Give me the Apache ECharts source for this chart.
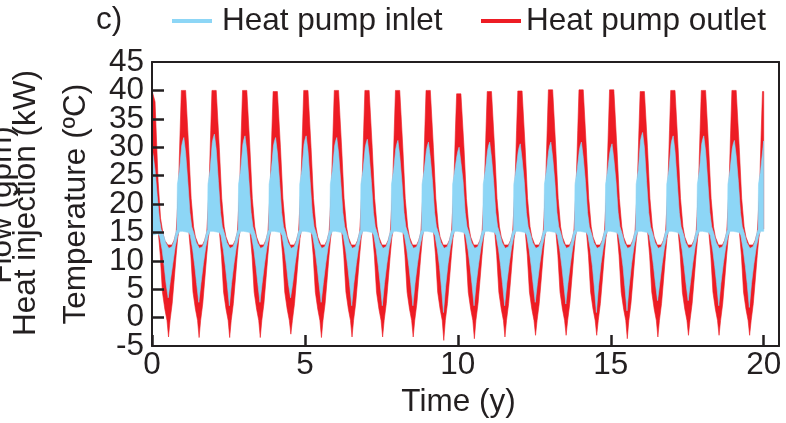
<!DOCTYPE html>
<html><head><meta charset="utf-8">
<script src="https://cdn.jsdelivr.net/npm/echarts@6/dist/echarts.min.js"></script>
<style>html,body{margin:0;padding:0;background:#fff}#c{width:786px;height:423px}</style>
</head><body><div id="c"></div>
<script>
// ---------- axes ----------
const xMin = 0, xMax = 20.5, xInterval = 5;
const yMin = -5, yMax = 45, yInterval = 5;
const yEdgeLabels = [-5, 45];
const seriesNames = ['Heat pump inlet', 'Heat pump outlet'];

// ---------- Heat pump outlet (red): upper envelope ----------
// x = year index + phase
const outletUpperPhase = [0, 0.10, 0.20, 0.28, 0.36, 0.42, 0.52, 0.65, 0.72, 0.79, 0.86, 0.92, 0.96];
const outletUpper = [
  [40, 38, 24, 17.5, 14.8, 13.6, 12.8, 12.8, 13.6, 15, 22, 33, 40],
  [40, 40, 30, 21, 16, 14.2, 12.8, 12.8, 13.6, 15, 22, 33, 40],
  [40, 40, 30, 21, 16, 14.2, 12.8, 12.8, 13.6, 15, 22, 33, 40],
  [40, 40, 30, 21, 16, 14.2, 12.8, 12.8, 13.6, 15, 22, 33, 39.8],
  [39.8, 39.8, 30, 21, 16, 14.2, 12.8, 12.8, 13.6, 15, 22, 33, 40],
  [40, 40, 30, 21, 16, 14.2, 12.8, 12.8, 13.6, 15, 22, 33, 40],
  [40, 40, 30, 21, 16, 14.2, 12.8, 12.8, 13.6, 15, 22, 33, 40],
  [40, 40, 30, 21, 16, 14.2, 12.8, 12.8, 13.6, 15, 22, 33, 40],
  [40, 40, 30, 21, 16, 14.2, 12.8, 12.8, 13.6, 15, 22, 33, 40],
  [40, 40, 30, 21, 16, 14.2, 12.8, 12.8, 13.6, 15, 22, 33, 39.4],
  [39.4, 39.4, 30, 21, 16, 14.2, 12.8, 12.8, 13.6, 15, 22, 33, 39.8],
  [39.8, 39.8, 30, 21, 16, 14.2, 12.8, 12.8, 13.6, 15, 22, 33, 39.9],
  [39.9, 39.9, 30, 21, 16, 14.2, 12.8, 12.8, 13.6, 15, 22, 33, 40.1],
  [40.1, 40.1, 30, 21, 16, 14.2, 12.8, 12.8, 13.6, 15, 22, 33, 40.1],
  [40.1, 40.1, 30, 21, 16, 14.2, 12.8, 12.8, 13.6, 15, 22, 33, 40.1],
  [40.1, 40.1, 30, 21, 16, 14.2, 12.8, 12.8, 13.6, 15, 22, 33, 39.8],
  [39.8, 39.8, 30, 21, 16, 14.2, 12.8, 12.8, 13.6, 15, 22, 33, 40],
  [40, 40, 30, 21, 16, 14.2, 12.8, 12.8, 13.6, 15, 22, 33, 40],
  [40, 40, 30, 21, 16, 14.2, 12.8, 12.8, 13.6, 15, 22, 33, 40],
  [40, 40, 30, 21, 16, 14.2, 12.8, 12.8, 13.6, 15, 22, 33, 39.8]
];
const outletUpperEnd = 39.8;

// ---------- Heat pump outlet (red): lower envelope ----------
const outletLowerPhase = [0, 0.20, 0.27, 0.34, 0.42, 0.49, 0.54, 0.59, 0.66, 0.73, 0.79, 0.84, 0.89];
const outletLower = [
  [15.0, 15.4, 11, 4.5, 1.5, -0.5, -3.4, -0.5, 2.5, 7, 11, 14, 15.6],
  [15.6, 15.4, 11, 4.5, 1.5, -0.5, -3.5, -0.5, 2.5, 7, 11, 14, 15.6],
  [15.6, 15.4, 11, 4.5, 1.5, -0.5, -3.5, -0.5, 2.5, 7, 11, 14, 15.6],
  [15.6, 15.4, 11, 4.5, 1.5, -0.5, -3.5, -0.5, 2.5, 7, 11, 14, 15.6],
  [15.6, 15.4, 11, 4.5, 1.5, -0.5, -2.9, -0.5, 2.5, 7, 11, 14, 15.6],
  [15.6, 15.4, 11, 4.5, 1.5, -0.5, -3.5, -0.5, 2.5, 7, 11, 14, 15.6],
  [15.6, 15.4, 11, 4.5, 1.5, -0.5, -3.4, -0.5, 2.5, 7, 11, 14, 15.6],
  [15.6, 15.4, 11, 4.5, 1.5, -0.5, -3.4, -0.5, 2.5, 7, 11, 14, 15.6],
  [15.6, 15.4, 11, 4.5, 1.5, -0.5, -3.4, -0.5, 2.5, 7, 11, 14, 15.6],
  [15.6, 15.4, 11, 4.5, 1.5, -0.5, -4.0, -0.5, 2.5, 7, 11, 14, 15.6],
  [15.6, 15.4, 11, 4.5, 1.5, -0.5, -3.7, -0.5, 2.5, 7, 11, 14, 15.6],
  [15.6, 15.4, 11, 4.5, 1.5, -0.5, -3.4, -0.5, 2.5, 7, 11, 14, 15.6],
  [15.6, 15.4, 11, 4.5, 1.5, -0.5, -3.1, -0.5, 2.5, 7, 11, 14, 15.6],
  [15.6, 15.4, 11, 4.5, 1.5, -0.5, -3.1, -0.5, 2.5, 7, 11, 14, 15.6],
  [15.6, 15.4, 11, 4.5, 1.5, -0.5, -3.1, -0.5, 2.5, 7, 11, 14, 15.6],
  [15.6, 15.4, 11, 4.5, 1.5, -0.5, -3.7, -0.5, 2.5, 7, 11, 14, 15.6],
  [15.6, 15.4, 11, 4.5, 1.5, -0.5, -3.4, -0.5, 2.5, 7, 11, 14, 15.6],
  [15.6, 15.4, 11, 4.5, 1.5, -0.5, -3.1, -0.5, 2.5, 7, 11, 14, 15.6],
  [15.6, 15.4, 11, 4.5, 1.5, -0.5, -3.1, -0.5, 2.5, 7, 11, 14, 15.6],
  [15.6, 15.4, 11, 4.5, 1.5, -0.5, -3.1, -0.5, 2.5, 7, 11, 14, 15.6]
];
const outletLowerEnd = 15.6;

// ---------- Heat pump inlet (blue): upper envelope ----------
const inletUpperPhase = [0, 0.04, 0.10, 0.17, 0.24, 0.30, 0.36, 0.45, 0.55, 0.65, 0.72, 0.78, 0.815, 0.83, 0.90, 0.97];
const inletUpper = [
  [29.5, 28.5, 26, 21.5, 17.5, 15.5, 14.8, 13.2, 12.2, 12.5, 13.5, 15, 15.5, 23.5, 26, 30.2],
  [31.0, 31.7, 29.0, 24, 18.5, 16, 15, 13.2, 12.2, 12.5, 13.5, 15, 15.5, 23.5, 26, 30.8],
  [31.6, 32.3, 29.6, 24, 18.5, 16, 15, 13.2, 12.2, 12.5, 13.5, 15, 15.5, 23.5, 26, 30.5],
  [31.3, 32.0, 29.3, 24, 18.5, 16, 15, 13.2, 12.2, 12.5, 13.5, 15, 15.5, 23.5, 26, 30.2],
  [31.0, 31.7, 29.0, 24, 18.5, 16, 15, 13.2, 12.2, 12.5, 13.5, 15, 15.5, 23.5, 26, 30.5],
  [31.3, 32.0, 29.3, 24, 18.5, 16, 15, 13.2, 12.2, 12.5, 13.5, 15, 15.5, 23.5, 26, 30.2],
  [31.0, 31.7, 29.0, 24, 18.5, 16, 15, 13.2, 12.2, 12.5, 13.5, 15, 15.5, 23.5, 26, 29.9],
  [30.7, 31.4, 28.7, 24, 18.5, 16, 15, 13.2, 12.2, 12.5, 13.5, 15, 15.5, 23.5, 26, 29.7],
  [30.5, 31.2, 28.5, 24, 18.5, 16, 15, 13.2, 12.2, 12.5, 13.5, 15, 15.5, 23.5, 26, 29.4],
  [30.2, 30.9, 28.2, 24, 18.5, 16, 15, 13.2, 12.2, 12.5, 13.5, 15, 15.5, 23.5, 26, 28.5],
  [29.3, 30.0, 27.3, 24, 18.5, 16, 15, 13.2, 12.2, 12.5, 13.5, 15, 15.5, 23.5, 26, 29.4],
  [30.2, 30.9, 28.2, 24, 18.5, 16, 15, 13.2, 12.2, 12.5, 13.5, 15, 15.5, 23.5, 26, 29.1],
  [29.9, 30.6, 27.9, 24, 18.5, 16, 15, 13.2, 12.2, 12.5, 13.5, 15, 15.5, 23.5, 26, 29.4],
  [30.2, 30.9, 28.2, 24, 18.5, 16, 15, 13.2, 12.2, 12.5, 13.5, 15, 15.5, 23.5, 26, 29.4],
  [30.2, 30.9, 28.2, 24, 18.5, 16, 15, 13.2, 12.2, 12.5, 13.5, 15, 15.5, 23.5, 26, 29.1],
  [29.9, 30.6, 27.9, 24, 18.5, 16, 15, 13.2, 12.2, 12.5, 13.5, 15, 15.5, 23.5, 26, 31.1],
  [31.9, 32.6, 29.9, 24, 18.5, 16, 15, 13.2, 12.2, 12.5, 13.5, 15, 15.5, 23.5, 26, 30.5],
  [31.3, 32.0, 29.3, 24, 18.5, 16, 15, 13.2, 12.2, 12.5, 13.5, 15, 15.5, 23.5, 26, 30.5],
  [31.3, 32.0, 29.3, 24, 18.5, 16, 15, 13.2, 12.2, 12.5, 13.5, 15, 15.5, 23.5, 26, 29.7],
  [30.5, 31.2, 28.5, 24, 18.5, 16, 15, 13.2, 12.2, 12.5, 13.5, 15, 15.5, 23.5, 26, 29.6]
];
const inletUpperEnd = 31.1;

// ---------- Heat pump inlet (blue): lower envelope ----------
const inletLowerPhase = [0, 0.20, 0.25, 0.33, 0.40, 0.46, 0.53, 0.60, 0.68, 0.76, 0.84, 0.90];
const inletLower = [
  [14.5, 14.8, 14.3, 12, 9, 6, 3.5, 6.5, 9.5, 12.5, 14.5, 15.2],
  [15.2, 15, 14.5, 12, 9, 6, 2.7, 6, 9.5, 12.5, 14.5, 15.2],
  [15.2, 15, 14.5, 12, 9, 6, 2.1, 6, 9.5, 12.5, 14.5, 15.2],
  [15.2, 15, 14.5, 12, 9, 6, 2.7, 6, 9.5, 12.5, 14.5, 15.2],
  [15.2, 15, 14.5, 12, 9, 6, 3.5, 6, 9.5, 12.5, 14.5, 15.2],
  [15.2, 15, 14.5, 12, 9, 6, 2.7, 6, 9.5, 12.5, 14.5, 15.2],
  [15.2, 15, 14.5, 12, 9, 6, 2.1, 6, 9.5, 12.5, 14.5, 15.2],
  [15.2, 15, 14.5, 12, 9, 6, 2.1, 6, 9.5, 12.5, 14.5, 15.2],
  [15.2, 15, 14.5, 12, 9, 6, 2.1, 6, 9.5, 12.5, 14.5, 15.2],
  [15.2, 15, 14.5, 12, 9, 5.5, 0.9, 5.5, 9.5, 12.5, 14.5, 15.2],
  [15.2, 15, 14.5, 12, 9, 6, 2.1, 6, 9.5, 12.5, 14.5, 15.2],
  [15.2, 15, 14.5, 12, 9, 6, 2.1, 6, 9.5, 12.5, 14.5, 15.2],
  [15.2, 15, 14.5, 12, 9, 6, 2.7, 6, 9.5, 12.5, 14.5, 15.2],
  [15.2, 15, 14.5, 12, 9, 6, 2.4, 6, 9.5, 12.5, 14.5, 15.2],
  [15.2, 15, 14.5, 12, 9, 5.5, 0.9, 5.5, 9.5, 12.5, 14.5, 15.2],
  [15.2, 15, 14.5, 12, 9, 5.5, 1.2, 5.5, 9.5, 12.5, 14.5, 15.2],
  [15.2, 15, 14.5, 12, 9, 6, 3.0, 6, 9.5, 12.5, 14.5, 15.2],
  [15.2, 15, 14.5, 12, 9, 6, 3.0, 6, 9.5, 12.5, 14.5, 15.2],
  [15.2, 15, 14.5, 12, 9, 6, 2.1, 6, 9.5, 12.5, 14.5, 15.2],
  [15.2, 15, 14.5, 12, 9, 6, 1.8, 6, 9.5, 12.5, 14.5, 15.2]
];
const inletLowerEnd = 15.2;

// ---------- build ----------
const INK = '#231f20';
const RED = '#ed1c24';
const BLUE = '#8dd6f6';
const FONT = '"Liberation Sans", Arial, Helvetica, sans-serif';
const FS = 31.5;

function envelope(phase, rows, endValue, endX) {
  const pts = [];
  rows.forEach((row, year) => row.forEach((v, j) => pts.push([year + phase[j], v])));
  pts.push([endX, endValue]);
  return pts;
}
const lastX = outletUpper.length;
const redUp = envelope(outletUpperPhase, outletUpper, outletUpperEnd, lastX);
const redLo = envelope(outletLowerPhase, outletLower, outletLowerEnd, lastX);
const blueUp = envelope(inletUpperPhase, inletUpper, inletUpperEnd, lastX);
const blueLo = envelope(inletLowerPhase, inletLower, inletLowerEnd, lastX);

function band(name, up, lo, color) {
  return {
    type: 'custom', name, z: 1, coordinateSystem: 'cartesian2d',
    data: [[up[0][0], up[0][1]]], encode: { x: 0, y: 1 },
    itemStyle: { color }, silent: true,
    renderItem: (params, api) => {
      const pts = up.map(p => api.coord(p)).concat(lo.slice().reverse().map(p => api.coord(p)));
      return { type: 'polygon', shape: { points: pts }, style: { fill: color, stroke: color, lineWidth: 0.6 } };
    }
  };
}

const tickStyle = { color: INK, width: 2.5 };
const lineStyle = { color: INK, width: 2 };
const labelStyle = { fontSize: FS, fontFamily: FONT, color: INK };
const chart = echarts.init(document.getElementById('c'), null, { renderer: 'canvas' });
chart.setOption({
  animation: false,
  backgroundColor: '#fff',
  title: { text: 'c)', left: 96, top: 4, padding: 0,
    textStyle: { fontSize: FS, fontWeight: 'normal', fontFamily: FONT, color: INK } },
  legend: [
    { data: [seriesNames[0]], left: 172, top: 5, padding: 0, icon: 'rect', itemWidth: 40, itemHeight: 4,
      textStyle: { fontSize: FS, fontFamily: FONT, color: INK, padding: [0, 0, 0, 5] } },
    { data: [seriesNames[1]], left: 481, top: 5, padding: 0, icon: 'rect', itemWidth: 40, itemHeight: 4,
      textStyle: { fontSize: FS, fontFamily: FONT, color: INK } }
  ],
  grid: { left: 152, right: 7, top: 62, bottom: 75, show: false },
  xAxis: [{
    type: 'value', min: xMin, max: xMax, interval: xInterval, position: 'bottom', z: 10,
    name: 'Time (y)', nameLocation: 'middle', nameGap: 36,
    nameTextStyle: { ...labelStyle, padding: [0, 14, 0, 0] },
    axisLine: { show: true, onZero: false, lineStyle },
    axisTick: { show: true, inside: true, length: 11, lineStyle: tickStyle },
    axisLabel: { ...labelStyle, margin: 3 },
    splitLine: { show: false }
  }, {
    type: 'value', min: xMin, max: xMax, position: 'top', z: 10,
    axisLine: { show: true, onZero: false, lineStyle },
    axisTick: { show: false }, axisLabel: { show: false }, splitLine: { show: false }
  }],
  yAxis: [{
    type: 'value', min: yMin, max: yMax, interval: yInterval, position: 'left', z: 10,
    name: 'Temperature (ºC)', nameLocation: 'middle', nameGap: 60,
    nameTextStyle: labelStyle,
    axisLine: { show: true, onZero: false, lineStyle },
    axisTick: { show: true, inside: true, length: 12, lineStyle: tickStyle },
    axisLabel: { ...labelStyle, lineHeight: 20, margin: 8, padding: [5, 0, 0, 0] },
    splitLine: { show: false }
  }, {
    type: 'value', min: yMin, max: yMax, position: 'right', z: 10,
    axisLine: { show: true, onZero: false, lineStyle },
    axisTick: { show: false }, axisLabel: { show: false }, splitLine: { show: false }
  }, {
    type: 'value', min: yMin, max: yMax, interval: yInterval, position: 'left', z: 10,
    axisLine: { show: false, onZero: false }, axisTick: { show: false }, splitLine: { show: false },
    axisLabel: { ...labelStyle, lineHeight: 20, margin: 8, padding: [5, 0, 0, 0],
      customValues: yEdgeLabels, showMinLabel: true, showMaxLabel: true }
  }],
  graphic: [
    { type: 'text', x: 26, y: 203, rotation: Math.PI / 2,
      style: { text: 'Heat injection (kW)', font: FS + 'px ' + FONT, fill: INK, align: 'center', verticalAlign: 'middle' } },
    { type: 'text', x: 2, y: 205, rotation: Math.PI / 2,
      style: { text: 'Flow (gpm)', font: FS + 'px ' + FONT, fill: INK, align: 'center', verticalAlign: 'middle' } }
  ],
  series: [
    band(seriesNames[1], redUp, redLo, RED),
    band(seriesNames[0], blueUp, blueLo, BLUE)
  ]
});
</script></body></html>
